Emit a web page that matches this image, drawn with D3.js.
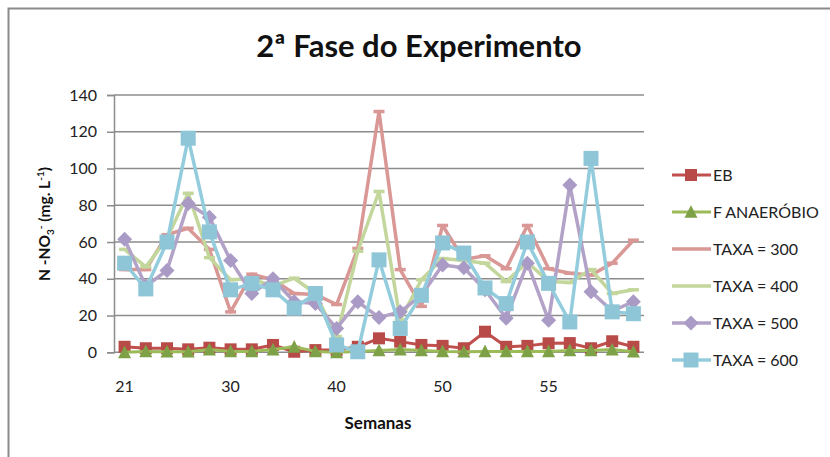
<!DOCTYPE html>
<html>
<head>
<meta charset="utf-8">
<script src="https://cdn.jsdelivr.net/npm/d3@7"></script>
<style>
  html, body { margin: 0; padding: 0; background: #fff; }
  svg { display: block; font-family: Lato, "Open Sans", sans-serif; }
</style>
</head>
<body>
<svg id="chart" width="830" height="457"></svg>
<script>
// Weekly sampling points (25 categories); only every 5th week is labelled
const nPoints = 25;
const xTickIndex = [0, 5, 10, 15, 20];
const xTickLabels = ["21", "30", "40", "50", "55"];
const yTicks = [0, 20, 40, 60, 80, 100, 120, 140];

const seriesNames = ["EB", "F ANAERÓBIO", "TAXA = 300", "TAXA = 400", "TAXA = 500", "TAXA = 600"];

const eb = [3, 2.2, 2.2, 1.6, 2.5, 1.6, 1.6, 4, 0.3, 1.2, 1.2, 3, 7.6, 5.8, 4, 3.5, 2.2, 11.2, 3, 3.5, 4.9, 5, 2.2, 6, 3];
const fAnaerobio = [0, 0.5, 0.3, 0.3, 1.5, 0.5, 0.5, 1.5, 3, 0.5, 0, 0.5, 1, 1.5, 1, 0.5, 0.3, 0.5, 0.5, 0.5, 0.5, 1, 1, 1.5, 0.3];
const taxa300 = [45, 45, 64, 67.5, 56, 22, 42.5, 39.5, 32, 31.5, 26, 56.5, 131, 45, 25, 69, 50.5, 52.5, 45.5, 69, 45.5, 43, 42, 48.5, 61];
const taxa400 = [56, 46.5, 62, 86.5, 51.5, 39.5, 40, 36, 40.3, 32, 8.5, 55, 87.5, 17.5, 39.5, 51, 50, 48.5, 38.5, 49, 38.5, 38, 45, 32, 34];
const taxa500 = [61.5, 36, 44.5, 81, 73.5, 50, 32, 40, 27.5, 26.5, 13, 27.5, 19, 22, 31, 47.5, 46, 34, 18.5, 48.5, 17.5, 91, 33, 22.5, 27.5];
const taxa600 = [48.5, 34.5, 60, 116.5, 65.5, 34, 37.5, 34, 24, 32, 4, 0.3, 50.3, 13, 31, 59.5, 54, 35, 26.5, 60, 37.5, 16.5, 105.5, 22, 21];

const seriesValues = [eb, fAnaerobio, taxa300, taxa400, taxa500, taxa600];

// Drawing styles per series
const styles = [
  { line: "#C0504D", marker: "square", fill: "#B84A47", size: 12, width: 3 },
  { line: "#9BBB59", marker: "triangle", fill: "#7EA148", size: 13, width: 3 },
  { line: "#D99795", marker: "dash", fill: "#D99795", size: 11, width: 3.5 },
  { line: "#C3D69B", marker: "dash", fill: "#C3D69B", size: 11, width: 3.5 },
  { line: "#B3A2C7", marker: "diamond", fill: "#A99BC5", size: 15, width: 3.5 },
  { line: "#93CDDD", marker: "square", fill: "#8EC6D8", size: 15, width: 3.5 }
];

const svg = d3.select("#chart");

// Chart area frame
svg.append("rect")
  .attr("x", 8.5).attr("y", 8.5)
  .attr("width", 840).attr("height", 470)
  .attr("fill", "#fff").attr("stroke", "#8a8a8a").attr("stroke-width", 2);

const plot = { left: 114, right: 644, top: 95, bottom: 352.3 };

const x = d3.scaleBand().domain(d3.range(nPoints)).range([plot.left, plot.right]).padding(0);
const cx = i => x(i) + x.bandwidth() / 2;
const y = d3.scaleLinear().domain([0, 140]).range([plot.bottom, plot.top]);

// Title
svg.append("text")
  .attr("x", 419).attr("y", 57)
  .attr("text-anchor", "middle")
  .attr("font-size", 31).attr("font-weight", "bold").attr("fill", "#111")
  .text("2ª Fase do Experimento");

// Horizontal gridlines
svg.append("g").selectAll("line").data(yTicks).join("line")
  .attr("x1", plot.left).attr("x2", plot.right)
  .attr("y1", d => y(d)).attr("y2", d => y(d))
  .attr("stroke", "#8c8c8c").attr("stroke-width", 1.5);

// Y axis
const yAxis = svg.append("g")
  .attr("transform", `translate(${plot.left},0)`)
  .call(d3.axisLeft(y).tickValues(yTicks).tickSize(7).tickPadding(10).tickFormat(d3.format("d")));
yAxis.select(".domain").attr("stroke", "#8c8c8c").attr("stroke-width", 1.5);
yAxis.selectAll(".tick line").attr("stroke", "#8c8c8c").attr("stroke-width", 1.5);
yAxis.selectAll(".tick text").attr("font-size", 16).attr("fill", "#222").attr("font-family", "Lato, sans-serif");

// X axis labels
const xAxis = svg.append("g")
  .attr("transform", `translate(0,${plot.bottom})`)
  .call(d3.axisBottom(x).tickValues(xTickIndex).tickSize(0).tickPadding(28)
    .tickFormat((d, i) => xTickLabels[i]));
xAxis.select(".domain").remove();
xAxis.selectAll(".tick text").attr("font-size", 16).attr("fill", "#222").attr("font-family", "Lato, sans-serif");

// Axis titles
svg.append("text")
  .attr("x", 378).attr("y", 429)
  .attr("text-anchor", "middle")
  .attr("font-size", 17).attr("font-weight", "bold").attr("fill", "#111")
  .text("Semanas");

const yTitle = svg.append("text")
  .attr("transform", "translate(50,224) rotate(-90)")
  .attr("text-anchor", "middle")
  .attr("font-size", 15.5).attr("font-weight", "bold").attr("fill", "#111");
yTitle.append("tspan").text("N -NO");
yTitle.append("tspan").attr("font-size", 10).attr("dy", 4).text("3");
yTitle.append("tspan").attr("font-size", 10).attr("dy", -10).text("-");
yTitle.append("tspan").attr("dy", 6).text(" (mg. L");
yTitle.append("tspan").attr("font-size", 10).attr("dy", -6).text("-1");
yTitle.append("tspan").attr("dy", 6).text(")");

// Marker drawing helper
function drawMarker(g, type, size, fill) {
  if (type === "square") {
    g.append("rect").attr("x", -size / 2).attr("y", -size / 2)
      .attr("width", size).attr("height", size).attr("fill", fill);
  } else if (type === "triangle") {
    const h = size * 0.9;
    g.append("path").attr("d", `M0,${-h / 2 - 1}L${size / 2},${h / 2}L${-size / 2},${h / 2}Z`).attr("fill", fill);
  } else if (type === "diamond") {
    const r = size / 2;
    g.append("path").attr("d", `M0,${-r}L${r},0L0,${r}L${-r},0Z`).attr("fill", fill);
  } else if (type === "dash") {
    g.append("rect").attr("x", -size / 2).attr("y", -1.75)
      .attr("width", size).attr("height", 3.5).attr("fill", fill);
  }
}

const line = d3.line().x((d, i) => cx(i)).y(d => y(d));

seriesValues.forEach((vals, k) => {
  const st = styles[k];
  const g = svg.append("g").attr("class", "series");
  g.append("path")
    .attr("d", line(vals))
    .attr("fill", "none")
    .attr("stroke", st.line)
    .attr("stroke-width", st.width)
    .attr("stroke-linejoin", "round");
  vals.forEach((v, i) => {
    const m = g.append("g").attr("transform", `translate(${cx(i)},${y(v)})`);
    drawMarker(m, st.marker, st.size, st.fill);
  });
});

// Legend
const legendY = [175, 212, 249, 286, 323, 360];
const legend = svg.append("g");
seriesNames.forEach((name, k) => {
  const st = styles[k];
  const g = legend.append("g").attr("transform", `translate(0,${legendY[k]})`);
  g.append("line").attr("x1", 672).attr("x2", 711).attr("y1", 0).attr("y2", 0)
    .attr("stroke", st.line).attr("stroke-width", st.width);
  if (st.marker !== "dash") {
    const m = g.append("g").attr("transform", "translate(691,0)");
    drawMarker(m, st.marker, st.size, st.fill);
  }
  g.append("text").attr("x", 713).attr("y", 0).attr("dy", "0.36em")
    .attr("font-size", 16).attr("fill", "#222").text(name);
});
</script>
</body>
</html>
